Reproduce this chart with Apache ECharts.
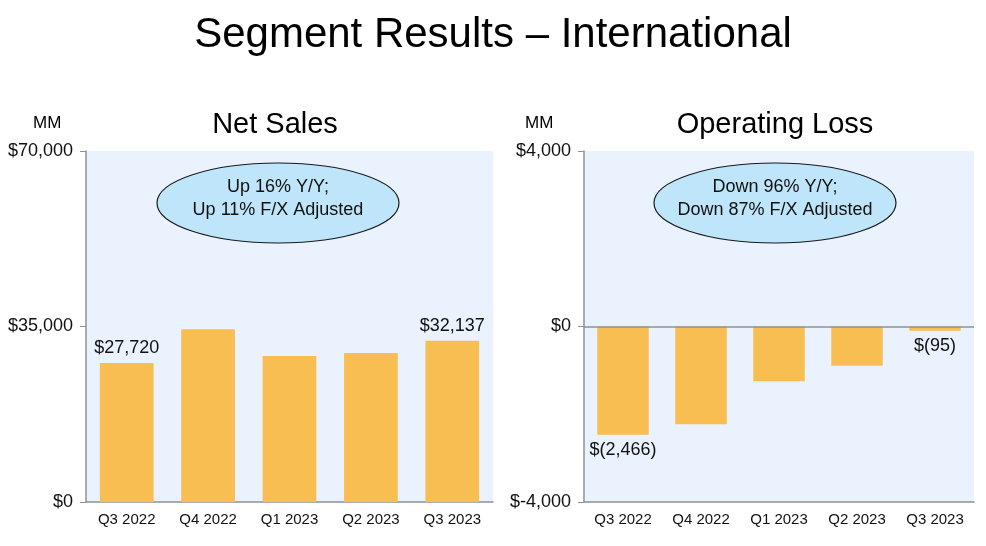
<!DOCTYPE html>
<html>
<head>
<meta charset="utf-8">
<script src="https://cdn.jsdelivr.net/npm/echarts@6/dist/echarts.min.js"></script>
<style>
  html, body { margin: 0; padding: 0; background: #fff; }
  #main { width: 986px; height: 546px; }
</style>
</head>
<body>
<div id="main"></div>
<script>
var quarters = ['Q3 2022', 'Q4 2022', 'Q1 2023', 'Q2 2023', 'Q3 2023'];
var netSales = [27720, 34463, 29123, 29697, 32137];
var operatingLoss = [-2466, -2228, -1247, -895, -95];
var salesTicks = [0, 35000, 70000];
var lossTicks = [-4000, 0, 4000];

var FONT = 'Liberation Sans, Arial, sans-serif';
var BAR = '#F9BE52';
var AXIS = '#8E9196';

function money(v) {
    return '$' + v.toLocaleString('en-US');
}
function paren(v) {
    return v < 0 ? '$(' + Math.abs(v).toLocaleString('en-US') + ')' : money(v);
}

// only first and last bars carry a label
function withLabels(values, pos, fmt) {
    return values.map(function (v, i) {
        var show = (i === 0 || i === values.length - 1);
        return {
            value: v,
            label: {show: show, position: pos, formatter: fmt(v), fontSize: 18,
                    color: '#111', fontFamily: FONT, distance: 6}
        };
    });
}

var myChart = echarts.init(document.getElementById('main'));

var axisX = function (idx) {
    return {
        type: 'category', gridIndex: idx, data: quarters,
        axisLine: {onZero: false, lineStyle: {color: AXIS, width: 1.5}},
        axisTick: {alignWithLabel: true, length: 6, lineStyle: {color: AXIS}},
        axisLabel: {fontSize: 15, color: '#111', fontFamily: FONT, margin: 10}
    };
};
var axisY = function (idx, ticks) {
    return {
        type: 'value', gridIndex: idx,
        min: ticks[0], max: ticks[ticks.length - 1],
        interval: ticks[1] - ticks[0],
        axisLine: {show: true, lineStyle: {color: AXIS, width: 1.5}},
        axisTick: {show: true, length: 6, lineStyle: {color: AXIS}},
        splitLine: {show: false},
        axisLabel: {fontSize: 18, color: '#111', fontFamily: FONT, margin: 13,
                    formatter: function (v) { return money(v); }}
    };
};

function bubble(cx, text) {
    return [
        {type: 'ellipse', shape: {cx: cx, cy: 203, rx: 121, ry: 40},
         style: {fill: '#BEE5F9', stroke: '#1a1a1a', lineWidth: 1.2}},
        {type: 'text', x: cx, y: 199,
         style: {text: text, align: 'center', verticalAlign: 'middle',
                 fontSize: 18, lineHeight: 23, fill: '#111', fontFamily: FONT}}
    ];
}

myChart.setOption({
    animation: false,
    title: [
        {text: 'Segment Results – International', left: 'center', top: 9,
         textStyle: {fontSize: 42, fontWeight: 'normal', color: '#000', fontFamily: FONT}},
        {text: 'Net Sales', left: 270, top: 105, textAlign: 'center',
         textStyle: {fontSize: 29, fontWeight: 'normal', color: '#000', fontFamily: FONT}},
        {text: 'Operating Loss', left: 770, top: 105, textAlign: 'center',
         textStyle: {fontSize: 29, fontWeight: 'normal', color: '#000', fontFamily: FONT}},
        {text: 'MM', left: 28, top: 110,
         textStyle: {fontSize: 17, fontWeight: 'normal', color: '#000', fontFamily: FONT}},
        {text: 'MM', left: 520, top: 110,
         textStyle: {fontSize: 17, fontWeight: 'normal', color: '#000', fontFamily: FONT}}
    ],
    grid: [
        {left: 86, top: 151, width: 407, height: 351, show: true,
         backgroundColor: '#E9F2FD', borderWidth: 0},
        {left: 584, top: 151, width: 390, height: 351, show: true,
         backgroundColor: '#E9F2FD', borderWidth: 0}
    ],
    xAxis: [axisX(0), axisX(1)],
    yAxis: [axisY(0, salesTicks), axisY(1, lossTicks)],
    series: [
        {type: 'bar', xAxisIndex: 0, yAxisIndex: 0, barWidth: '66%',
         itemStyle: {color: BAR},
         data: withLabels(netSales, 'top', money)},
        {type: 'bar', xAxisIndex: 1, yAxisIndex: 1, barWidth: '66%',
         itemStyle: {color: BAR},
         data: withLabels(operatingLoss, 'bottom', paren),
         markLine: {silent: true, symbol: 'none', label: {show: false},
                    lineStyle: {color: AXIS, width: 1.5, type: 'solid'},
                    data: [{yAxis: 0}]}}
    ],
    graphic: bubble(278, 'Up 16% Y/Y;\nUp 11% F/X Adjusted')
        .concat(bubble(775, 'Down 96% Y/Y;\nDown 87% F/X Adjusted'))
});
</script>
</body>
</html>
